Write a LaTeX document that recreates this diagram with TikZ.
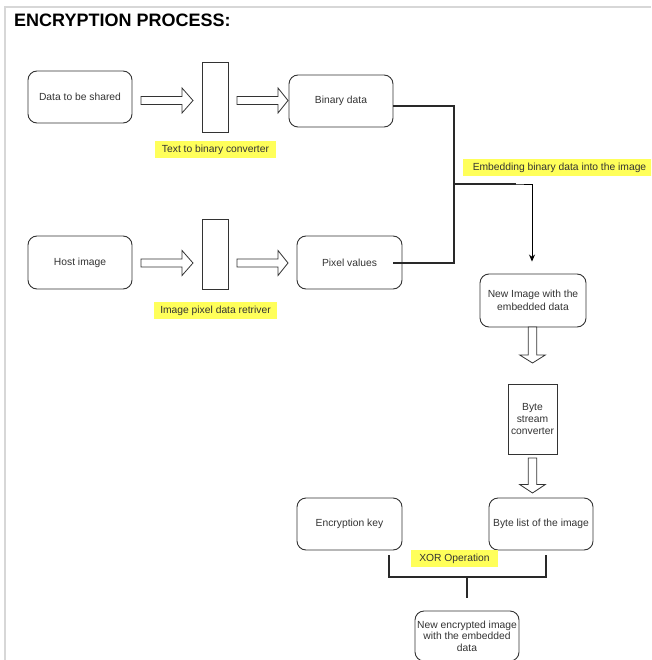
\documentclass[tikz,border=0pt]{standalone}
\usepackage{fontspec}
\setmainfont{Liberation Sans}
\usetikzlibrary{arrows.meta}
\definecolor{hl}{RGB}{255,255,90}
\definecolor{ink}{RGB}{51,51,51}
\definecolor{frame}{RGB}{215,215,215}
\newcommand\hollowR[4]{% x1, x2, head start, y
  \draw[harrow] (#1,#4-4) -- (#3,#4-4) -- (#3,#4-12.5) -- (#2,#4) -- (#3,#4+12.5) -- (#3,#4+4) -- (#1,#4+4) -- cycle;}
\newcommand\hollowD[4]{% x, y1, y2, head start
  \draw[harrow] (#1-4.3,#2) -- (#1-4.3,#4) -- (#1-12.8,#4) -- (#1,#3) -- (#1+12.8,#4) -- (#1+4.3,#4) -- (#1+4.3,#2) -- cycle;}
\begin{document}
\begin{tikzpicture}[x=1pt,y=-1pt,
  txt/.style={font=\fontsize{10.3}{12.4}\selectfont, text=ink},
  roundbox/.style={txt, draw=ink, line width=0.9pt, rounded corners=9pt, inner sep=0pt, align=center, fill=white},
  convbox/.style={txt, draw=ink, line width=0.9pt, inner sep=0pt, align=center, fill=white},
  hllabel/.style={txt, fill=hl, inner sep=0pt, minimum height=17pt},
  harrow/.style={draw=ink, line width=0.8pt, fill=white, line join=miter},
  bus/.style={draw=ink!80!black, line width=2pt},
  thinline/.style={draw=black, line width=0.9pt}]
\useasboundingbox (0,0) rectangle (651,660);
\clip (0,0) rectangle (651,660);
% frame
\draw[frame, line width=1.5pt] (5,660) -- (5,7) -- (651,7);
% title
\node[anchor=base west, inner sep=0pt, font=\fontsize{18}{20}\selectfont\bfseries] (title) at (14,27) {ENCRYPTION PROCESS:};
% row 1
\node[roundbox, minimum width=104pt, minimum height=52pt] (data) at (80,97) {Data to be shared};
\node[convbox, minimum width=26pt, minimum height=70pt] (conv1) at (215,97) {};
\node[roundbox, minimum width=104pt, minimum height=52pt] (bin) at (341,101) {Binary data};
\hollowR{141}{193}{182}{100.5}
\hollowR{237}{288}{278}{100.5}
\node[hllabel, minimum width=121pt] (lab1) at (215.5,149.5) {Text to binary converter};
% row 2
\node[roundbox, minimum width=104pt, minimum height=53pt] (host) at (80,262.5) {Host image};
\node[convbox, minimum width=26pt, minimum height=70pt] (conv2) at (215,254) {};
\node[roundbox, minimum width=105pt, minimum height=53pt] (pv) at (349.5,262.5) {Pixel values};
\hollowR{141}{193}{182}{263}
\hollowR{237}{288}{278}{263}
\node[hllabel, minimum width=123pt] (lab2) at (215.5,310.5) {Image pixel data retriver};
% merge
\coordinate (J) at (454,184);
\coordinate (J2) at (516,184);
\draw[bus] ([yshift=-5pt]bin.east) -| (J);
\draw[bus] ([xshift=-9pt]pv.east) -| (J);
\node[hllabel, minimum width=193pt] (lab3) at (559.5,167.5) {Embedding binary data into the image};
\node[roundbox, minimum width=106pt, minimum height=53pt] (newimg) at (533,300.5) {New Image with the\\embedded data};
\draw[thinline, -{Stealth[length=7pt,width=6pt]}] (J) -- (J2) -| ([xshift=-1pt,yshift=12pt]newimg.north);
\draw[bus] (J) -- (J2);
% byte stream
\node[convbox, minimum width=49pt, minimum height=70pt] (bsc) at (532.5,419) {Byte\\stream\\converter};
\hollowD{532.5}{327}{363}{355}
\hollowD{532.5}{458}{493}{484.5}
\node[roundbox, minimum width=104pt, minimum height=52pt] (bl) at (541,524) {Byte list of the image};
\node[roundbox, minimum width=105pt, minimum height=52pt] (ek) at (349.5,524) {Encryption key};
% XOR
\coordinate (XL) at ([xshift=-13pt,yshift=-5pt]ek.south east);
\coordinate (XR) at ([xshift=5pt,yshift=-5pt]bl.south);
\coordinate (XM) at (467,577);
\draw[bus] (XL) -- ++(0,22) -| (XR);
\node[roundbox, minimum width=104pt, minimum height=50pt, font=\fontsize{10.3}{11.6}\selectfont] (enc) at (467,636) {New encrypted image\\with the embedded\\data};
\draw[bus] (XM) -- ([yshift=13pt]enc.north);
\node[hllabel, minimum width=87pt] (lab4) at (454.5,558.5) {XOR Operation};
\end{tikzpicture}
\end{document}
